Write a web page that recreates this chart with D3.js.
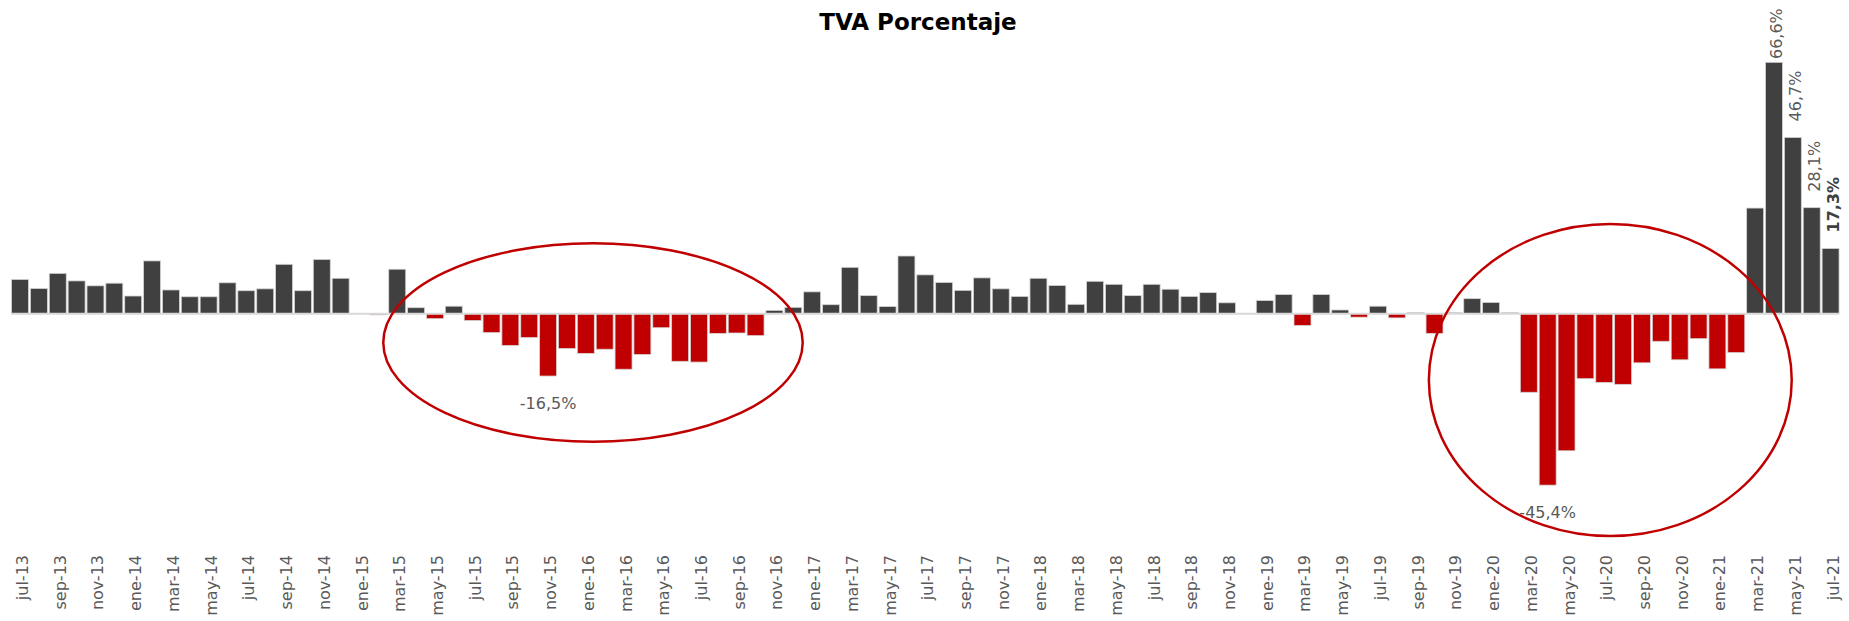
<!DOCTYPE html>
<html>
<head>
<meta charset="utf-8">
<script src="https://cdn.jsdelivr.net/npm/d3@7"></script>
<style>
  body { margin: 0; background: #fff; }
  text { font-family: "Century Gothic", "DejaVu Sans", sans-serif; }
</style>
</head>
<body>
<div id="chart"></div>
<script>
var width = 1849;
var height = 621;

// meses (jul-13 .. jul-21)
var months = [
  "jul-13","ago-13","sep-13","oct-13","nov-13","dic-13",
  "ene-14","feb-14","mar-14","abr-14","may-14","jun-14","jul-14","ago-14","sep-14","oct-14","nov-14","dic-14",
  "ene-15","feb-15","mar-15","abr-15","may-15","jun-15","jul-15","ago-15","sep-15","oct-15","nov-15","dic-15",
  "ene-16","feb-16","mar-16","abr-16","may-16","jun-16","jul-16","ago-16","sep-16","oct-16","nov-16","dic-16",
  "ene-17","feb-17","mar-17","abr-17","may-17","jun-17","jul-17","ago-17","sep-17","oct-17","nov-17","dic-17",
  "ene-18","feb-18","mar-18","abr-18","may-18","jun-18","jul-18","ago-18","sep-18","oct-18","nov-18","dic-18",
  "ene-19","feb-19","mar-19","abr-19","may-19","jun-19","jul-19","ago-19","sep-19","oct-19","nov-19","dic-19",
  "ene-20","feb-20","mar-20","abr-20","may-20","jun-20","jul-20","ago-20","sep-20","oct-20","nov-20","dic-20",
  "ene-21","feb-21","mar-21","abr-21","may-21","jun-21","jul-21"
];

// TVA %
var tva = [
  9.1, 6.7, 10.7, 8.7, 7.4, 8.1,
  4.7, 14.0, 6.3, 4.5, 4.5, 8.2, 6.1, 6.6, 13.1, 6.1, 14.4, 9.4,
  0.0, -0.3, 11.8, 1.6, -1.3, 2.0, -1.8, -5.0, -8.4, -6.3, -16.5, -9.2,
  -10.5, -9.4, -14.7, -10.8, -3.7, -12.6, -12.8, -5.2, -5.1, -5.8, 0.9, 1.7,
  5.8, 2.4, 12.3, 4.8, 1.9, 15.3, 10.3, 8.3, 6.2, 9.5, 6.6, 4.6,
  9.4, 7.5, 2.5, 8.6, 7.8, 4.8, 7.8, 6.5, 4.6, 5.6, 2.9, 0.1,
  3.5, 5.1, -3.1, 5.1, 1.0, -0.9, 2.0, -1.1, 0.3, -5.2, 0.3, 4.0,
  3.0, 0.3, -20.8, -45.4, -36.3, -17.2, -18.2, -18.7, -13.0, -7.3, -12.2, -6.6,
  -14.6, -10.3, 28.0, 66.6, 46.7, 28.1, 17.3
];

// etiquetas del eje: cada dos meses
var tickMonths = months.filter(function(d, i) { return i % 2 == 0; });

// meses con etiqueta de dato
var upLabels = ["abr-21", "may-21", "jun-21", "jul-21"];
var downLabels = ["nov-15", "abr-20"];
var boldLabel = "jul-21";

// zonas resaltadas [indice mes izq, indice mes der, valor arriba, valor abajo]
var highlights = [
  [19.26, 41.5, 18.65, -33.9],
  [74.7, 93.94, 23.8, -58.9]
];

var loc = d3.formatLocale({decimal: ",", thousands: ".", grouping: [3], currency: ["", ""], minus: "-"});
var fmt = function(v) { return loc.format(".1f")(v) + "%"; };

var svg = d3.select("#chart").append("svg")
    .attr("width", width)
    .attr("height", height);

var x = d3.scaleBand()
    .domain(months)
    .range([10.6, 1840])
    .paddingInner(0.1)
    .paddingOuter(0.05);

// posicion continua por indice de mes (centro de barra)
var xi = d3.scaleLinear()
    .domain([0, months.length - 1])
    .range([x(months[0]) + x.bandwidth() / 2, x(months[months.length - 1]) + x.bandwidth() / 2]);

var y = d3.scaleLinear()
    .domain([-50, 70])
    .range([502.5, 49.5]);

svg.append("text")
    .attr("x", 918)
    .attr("y", 30)
    .attr("text-anchor", "middle")
    .attr("font-size", "23px")
    .attr("font-weight", "bold")
    .attr("fill", "#000")
    .text("TVA Porcentaje");

var data = months.map(function(m, i) { return {month: m, value: tva[i]}; });

svg.append("g")
    .selectAll("rect")
    .data(data)
    .enter().append("rect")
    .attr("x", function(d) { return x(d.month); })
    .attr("width", x.bandwidth())
    .attr("y", function(d) { return y(Math.max(0, d.value)); })
    .attr("height", function(d) { return Math.abs(y(d.value) - y(0)); })
    .attr("fill", function(d) { return d.value < 0 ? "#C00000" : "#404040"; })
    .attr("stroke", "#d4d4d4")
    .attr("stroke-width", 0.8);

svg.append("line")
    .attr("x1", x(months[0]))
    .attr("x2", x(months[months.length - 1]) + x.bandwidth())
    .attr("y1", y(0))
    .attr("y2", y(0))
    .attr("stroke", "#d9d9d9")
    .attr("stroke-width", 2);

var axis = svg.append("g")
    .attr("transform", "translate(0,555)")
    .call(d3.axisBottom(x).tickValues(tickMonths).tickSize(0));
axis.select(".domain").remove();
axis.selectAll("text")
    .attr("x", 0)
    .attr("y", 0)
    .attr("dy", "0.5em")
    .attr("text-anchor", "end")
    .attr("transform", "rotate(-90)")
    .attr("font-family", "'Century Gothic', 'DejaVu Sans', sans-serif")
    .attr("font-size", "16px")
    .attr("fill", "#595959");

// etiquetas verticales sobre barras positivas
svg.append("g")
    .selectAll("text")
    .data(data.filter(function(d) { return upLabels.indexOf(d.month) >= 0; }))
    .enter().append("text")
    .attr("transform", function(d) {
        var cx = x(d.month) + x.bandwidth() / 2;
        var ey = Math.max(y(d.value) - 16, 59);
        return "translate(" + cx + "," + ey + ") rotate(-90)";
    })
    .attr("dy", "0.5em")
    .attr("text-anchor", "start")
    .attr("font-size", "16px")
    .attr("font-weight", function(d) { return d.month == boldLabel ? "bold" : "normal"; })
    .attr("fill", function(d) { return d.month == boldLabel ? "#404040" : "#595959"; })
    .text(function(d) { return fmt(d.value); });

// etiquetas bajo barras negativas
svg.append("g")
    .selectAll("text")
    .data(data.filter(function(d) { return downLabels.indexOf(d.month) >= 0; }))
    .enter().append("text")
    .attr("x", function(d) { return x(d.month) + x.bandwidth() / 2; })
    .attr("y", function(d) { return y(d.value) + 33; })
    .attr("text-anchor", "middle")
    .attr("font-size", "16px")
    .attr("fill", "#595959")
    .text(function(d) { return fmt(d.value); });

// elipses
svg.append("g")
    .selectAll("ellipse")
    .data(highlights)
    .enter().append("ellipse")
    .attr("cx", function(d) { return (xi(d[0]) + xi(d[1])) / 2; })
    .attr("cy", function(d) { return (y(d[2]) + y(d[3])) / 2; })
    .attr("rx", function(d) { return (xi(d[1]) - xi(d[0])) / 2; })
    .attr("ry", function(d) { return (y(d[3]) - y(d[2])) / 2; })
    .attr("fill", "none")
    .attr("stroke", "#C00000")
    .attr("stroke-width", 2.5);
</script>
</body>
</html>
